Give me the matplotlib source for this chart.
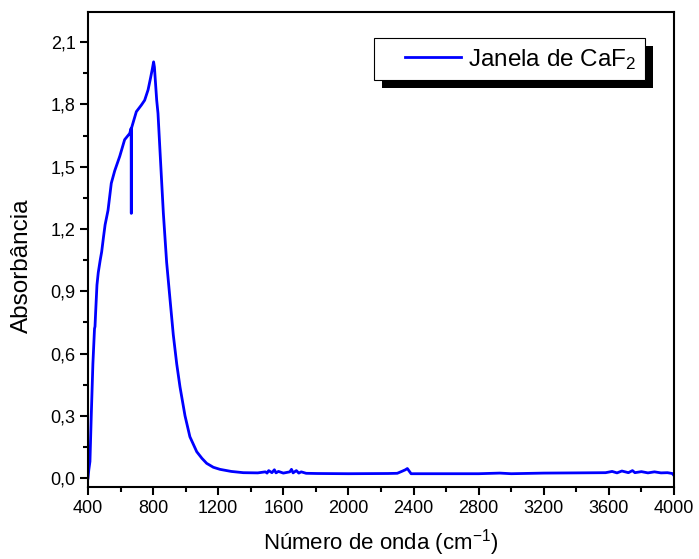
import numpy as np
import matplotlib
matplotlib.use("Agg")
import matplotlib.pyplot as plt
from matplotlib.patches import Rectangle
from matplotlib.ticker import MultipleLocator, FuncFormatter

plt.rcParams['font.family'] = ['Liberation Sans', 'DejaVu Sans']
plt.rcParams['mathtext.default'] = 'regular'

# espectro (numero de onda, absorbancia)
wavenumber = [400, 405, 412, 420, 430, 440, 443, 447, 455, 463, 475, 484, 495, 505,
              523, 543, 564, 595, 625, 656, 665, 666, 667, 680, 697, 728, 748, 769,
              785, 795, 803, 808, 815, 822, 830, 842, 853, 863, 883, 904, 924, 945,
              965, 996, 1026, 1068, 1100, 1129, 1170, 1211, 1280, 1354,
              1443, 1490, 1500, 1510, 1530, 1545, 1555, 1570, 1600, 1640, 1650, 1660,
              1680, 1695, 1710, 1740, 1807, 2000, 2243, 2300, 2330, 2350, 2362, 2372,
              2385, 2600, 2800, 2930, 3000, 3200, 3400, 3580, 3620, 3650, 3680, 3720,
              3745, 3760, 3800, 3840, 3880, 3920, 3960, 3990, 4000]
absorbance = [0.0, 0.04, 0.08, 0.30, 0.55, 0.72, 0.73, 0.80, 0.93, 0.99, 1.05, 1.09, 1.16, 1.22,
              1.29, 1.42, 1.48, 1.55, 1.63, 1.66, 1.685, 1.275, 1.685, 1.72, 1.765, 1.797, 1.82, 1.87,
              1.93, 1.97, 2.005, 1.98, 1.90, 1.82, 1.757, 1.58, 1.42, 1.275, 1.04, 0.86, 0.69, 0.55,
              0.44, 0.30, 0.199, 0.127, 0.095, 0.071, 0.052, 0.042, 0.032, 0.026,
              0.025, 0.030, 0.024, 0.036, 0.026, 0.040, 0.025, 0.032, 0.024, 0.030, 0.042, 0.025,
              0.036, 0.024, 0.030, 0.023, 0.022, 0.021, 0.022, 0.023, 0.033, 0.040, 0.046, 0.035,
              0.021, 0.021, 0.021, 0.024, 0.021, 0.024, 0.025, 0.026, 0.032, 0.025, 0.034, 0.026,
              0.036, 0.026, 0.031, 0.025, 0.030, 0.025, 0.026, 0.022, 0.012]

xticks = np.arange(400, 4001, 400)
yticks = np.arange(0, 2.11, 0.3)

fig = plt.figure(figsize=(6.99, 5.59), dpi=100)
ax = fig.add_axes([0.1259, 0.1288, 0.8383, 0.8497])
ax.plot(wavenumber, absorbance, color='#0000ff', lw=2.0, label='Janela de CaF$_2$')

ax.set_xlim(400, 4000)
ax.set_ylim(-0.043, 2.245)
ax.set_xticks(xticks)
ax.set_yticks(yticks)
ax.xaxis.set_minor_locator(MultipleLocator(200))
ax.yaxis.set_minor_locator(MultipleLocator(0.15))
ax.yaxis.set_major_formatter(FuncFormatter(lambda v, p: f"{v:.1f}".replace('.', ',')))
ax.tick_params(which='both', direction='out', width=1.5, labelsize=13,
               top=False, right=False, colors='k')
ax.tick_params(which='major', length=6, pad=3)
ax.tick_params(which='minor', length=3.5)
for s in ax.spines.values():
    s.set_linewidth(1.5)

ax.set_xlabel('Número de onda (cm$^{-1}$)', fontsize=16)
ax.set_ylabel('Absorbância', fontsize=17.5)
ax.xaxis.set_label_coords(0.5, -0.084)
ax.yaxis.set_label_coords(-0.094, 0.465)

leg = ax.legend(loc='upper right', bbox_to_anchor=(0.9505, 0.945), fontsize=17.5,
                frameon=False, handlelength=2.3, handletextpad=0.3,
                borderpad=0.35, borderaxespad=0)

# moldura branca e sombra preta deslocada, estilo Origin
fig.canvas.draw()
bb = leg.get_window_extent()
extra = 22
shadow = Rectangle((bb.x0 - extra + 8, bb.y0 - 8), bb.width + extra, bb.height,
                   transform=None, facecolor='k', edgecolor='none', zorder=4.8)
frame = Rectangle((bb.x0 - extra, bb.y0), bb.width + extra, bb.height,
                  transform=None, facecolor='w', edgecolor='k', lw=0.8, zorder=4.9)
for p in (shadow, frame):
    p.set_clip_on(False)
    ax.add_artist(p)

fig.savefig('out.png', dpi=100)
